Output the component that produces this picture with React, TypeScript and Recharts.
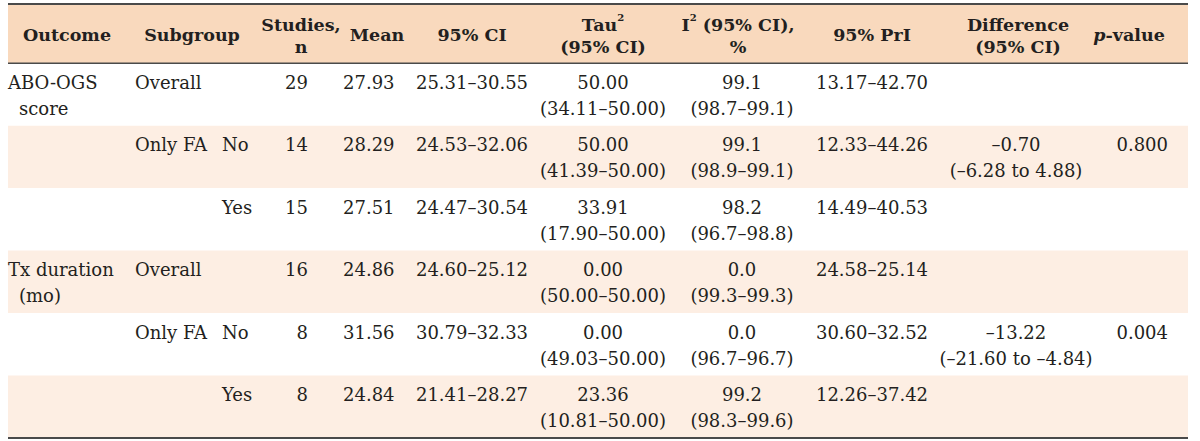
import { ReferenceArea, ReferenceLine, Scatter, ScatterChart, XAxis, YAxis } from "recharts";

// table values, one entry per body row
const outcomes = [["ABO-OGS", "score"], [], [], ["Tx duration", "(mo)"], [], []];
const subgroups = ["Overall", "Only FA", "", "Overall", "Only FA", ""];
const faLevels = ["", "No", "Yes", "", "No", "Yes"];
const studies = [29, 14, 15, 16, 8, 8];
const means = [27.93, 28.29, 27.51, 24.86, 31.56, 24.84];
const ciLow = [25.31, 24.53, 24.47, 24.6, 30.79, 21.41];
const ciHigh = [30.55, 32.06, 30.54, 25.12, 32.33, 28.27];
const tau2 = [50.0, 50.0, 33.91, 0.0, 0.0, 23.36];
const tau2Low = [34.11, 41.39, 17.9, 50.0, 49.03, 10.81];
const tau2High = [50.0, 50.0, 50.0, 50.0, 50.0, 50.0];
const i2 = [99.1, 99.1, 98.2, 0.0, 0.0, 99.2];
const i2Low = [98.7, 98.9, 96.7, 99.3, 96.7, 98.3];
const i2High = [99.1, 99.1, 98.8, 99.3, 96.7, 99.6];
const priLow = [13.17, 12.33, 14.49, 24.58, 30.6, 12.26];
const priHigh = [42.7, 44.26, 40.53, 25.14, 32.52, 37.42];
const diffs = [null, -0.7, null, null, -13.22, null];
const diffLow = [null, -6.28, null, null, -21.6, null];
const diffHigh = [null, 4.88, null, null, -4.84, null];
const pValues = [null, 0.8, null, null, 0.004, null];

const headers = [
  ["Outcome"],
  ["Subgroup"],
  ["Studies,", "n"],
  ["Mean"],
  ["95% CI"],
  ["Tau^2", "(95% CI)"],
  ["I^2 (95% CI),", "%"],
  ["95% PrI"],
  ["Difference", "(95% CI)"],
  ["_p_-value"],
];

// layout (x in page pixels along the x axis)
const HEAD_X = [67, 192, 301, 377, 472, 603, 738, 872, 1018, 1129];
const CELL_COLS = [
  { x: 8, anchor: "start" },
  { x: 135, anchor: "start" },
  { x: 222, anchor: "start" },
  { x: 308, anchor: "end" },
  { x: 343, anchor: "start" },
  { x: 472, anchor: "middle" },
  { x: 603, anchor: "middle" },
  { x: 742, anchor: "middle" },
  { x: 872, anchor: "middle" },
  { x: 1016, anchor: "middle" },
  { x: 1168, anchor: "end" },
];
const HEADER_H = 0.947;
const ROWS = outcomes.length;
const INK = "#231f20";
const FONT = "'DejaVu Serif', serif";

const fmt = (v: number, d: number) => (v < 0 ? "\u2013" + Math.abs(v).toFixed(d) : v.toFixed(d));
const range = (a: number, b: number, d: number) => `${a.toFixed(d)}\u2013${b.toFixed(d)}`;

function rowCells(i: number): string[][] {
  const d = diffs[i];
  const p = pValues[i];
  return [
    outcomes[i],
    subgroups[i] ? [subgroups[i]] : [],
    faLevels[i] ? [faLevels[i]] : [],
    [String(studies[i])],
    [means[i].toFixed(2)],
    [range(ciLow[i], ciHigh[i], 2)],
    [tau2[i].toFixed(2), `(${range(tau2Low[i], tau2High[i], 2)})`],
    [i2[i].toFixed(1), `(${range(i2Low[i], i2High[i], 1)})`],
    [range(priLow[i], priHigh[i], 2)],
    d == null ? [] : [fmt(d, 2), `(${fmt(diffLow[i] as number, 2)} to ${fmt(diffHigh[i] as number, 2)})`],
    p == null ? [] : [p.toFixed(3)],
  ];
}

const cells = [
  ...headers.map((lines, c) => ({ x: HEAD_X[c], y: -HEADER_H / 2, lines, anchor: "middle", head: true, indent: 0 })),
  ...outcomes.flatMap((_, i) =>
    rowCells(i).map((lines, c) => ({
      x: CELL_COLS[c].x,
      y: i + 0.5,
      lines,
      anchor: CELL_COLS[c].anchor,
      head: false,
      indent: c === 0 ? 11 : 0,
    }))
  ),
];

function rich(line: string) {
  if (line.includes("^2")) {
    const [a, b] = line.split("^2");
    return (
      <>
        {a}
        <tspan dy={-8} fontSize={10}>2</tspan>
        <tspan dy={8}>{b}</tspan>
      </>
    );
  }
  if (line.startsWith("_p_")) {
    return (
      <>
        <tspan fontStyle="italic">p</tspan>
        {line.slice(3)}
      </>
    );
  }
  return line;
}

function CellText(props: any) {
  const { cx, cy, payload } = props;
  const lines: string[] = payload.lines;
  if (!lines.length) return <g />;
  const head = payload.head;
  const ys = head
    ? lines.length === 1
      ? [cy + 1]
      : [cy - 9, cy + 13]
    : lines.map((_, k) => cy - 12 + k * 26);
  return (
    <g>
      {lines.map((l, k) => (
        <text
          key={k}
          x={cx + (k > 0 ? payload.indent : 0)}
          y={ys[k]}
          textAnchor={payload.anchor}
          dominantBaseline="central"
          fontFamily={FONT}
          fontSize={head ? 17.5 : 18}
          fontWeight={head ? "bold" : "normal"}
          fill={INK}
        >
          {rich(l)}
        </text>
      ))}
    </g>
  );
}

export default function App() {
  return (
    <div style={{ position: "absolute", left: 0, top: 0, background: "#fff" }}>
      <ScatterChart width={1200} height={441} margin={{ top: 4, right: 12, bottom: 3, left: 8 }}>
        <XAxis type="number" dataKey="x" domain={[8, 1188]} hide />
        <YAxis type="number" dataKey="y" domain={[-HEADER_H, ROWS]} reversed hide />
        <ReferenceArea y1={-HEADER_H} y2={0} fill="#f9d9bd" fillOpacity={1} stroke="none" />
        {outcomes.map((_, i) => (
          <ReferenceArea
            key={i}
            y1={i}
            y2={i + 1}
            fill={i % 2 === 1 ? "#fdeee3" : "#ffffff"}
            fillOpacity={1}
            stroke="none"
          />
        ))}
        <ReferenceLine y={-HEADER_H} stroke="#4a4a4a" strokeWidth={2} />
        <ReferenceLine y={0} stroke="#4a4a4a" strokeWidth={1.5} />
        <ReferenceLine y={ROWS} stroke="#4a4a4a" strokeWidth={2} />
        <Scatter data={cells} shape={CellText} isAnimationActive={false} />
      </ScatterChart>
    </div>
  );
}
